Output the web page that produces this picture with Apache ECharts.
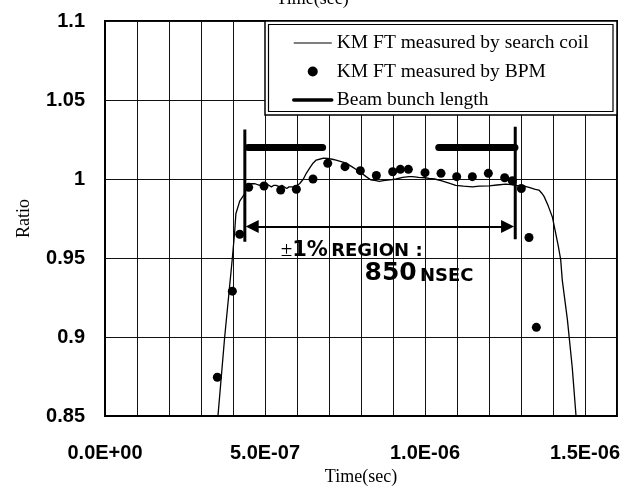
<!DOCTYPE html>
<html>
<head>
<meta charset="utf-8">
<script src="https://cdn.jsdelivr.net/npm/echarts@6/dist/echarts.min.js"></script>
<style>
  html, body { margin: 0; padding: 0; background: #fff; }
  #chart { width: 625px; height: 492px; }
</style>
</head>
<body>
<div id="chart"></div>
<script>
// Kicker flat-top waveform measured with the search coil (time in ns, ratio)
const coilTimeNs = [353, 374, 398, 405, 409, 421, 431, 437, 442, 449, 456, 462, 469, 475, 483, 490, 497, 504, 512,
  520, 528, 535, 546, 553, 560, 568, 575, 587, 600, 608, 614, 620, 629, 640, 650, 660, 670, 683, 696, 710, 722,
  738, 754, 770, 785, 800, 816, 830, 847, 857, 870, 890, 910, 930, 950, 961, 980, 1000, 1013, 1030, 1050, 1065,
  1080, 1096, 1120, 1148, 1170, 1200, 1225, 1253, 1270, 1283, 1310, 1325, 1345, 1356, 1365, 1372, 1385, 1398,
  1408, 1417, 1424, 1429, 1445, 1460, 1472];
const coilRatio = [0.850, 0.900, 0.950, 0.966, 0.978, 0.986, 0.989, 0.991, 0.995, 0.996, 0.997, 0.996, 0.997, 0.997, 0.996, 0.997,
  0.996, 0.997, 0.996, 0.995, 0.996, 0.996, 0.995, 0.996, 0.995, 0.994, 0.995, 0.995, 0.996, 0.997, 0.998, 1.000,
  1.0036, 1.007, 1.010, 1.012, 1.0125, 1.0132, 1.013, 1.0125, 1.012, 1.011, 1.010, 1.008, 1.006, 1.004, 1.0015,
  0.9995, 0.999, 0.9985, 0.999, 0.9995, 1.000, 1.001, 1.0015, 1.0015, 1.001, 1.0008, 1.0004, 1.000, 0.999, 0.998,
  0.997, 0.996, 0.9955, 0.995, 0.9955, 0.9956, 0.9962, 0.9968, 0.9965, 0.996, 0.9955, 0.9947, 0.9935, 0.993,
  0.991, 0.989, 0.983, 0.976, 0.966, 0.957, 0.949, 0.936, 0.911, 0.881, 0.850];

// Kicker flat-top measured with the BPM
const bpmTimeNs = [351, 398, 421, 449, 497, 549, 598, 650, 696, 750, 798, 848, 899, 923, 948, 1000, 1050, 1099,
  1148, 1198, 1249, 1273, 1301, 1325, 1348];
const bpmRatio = [0.8745, 0.929, 0.965, 0.9947, 0.9956, 0.993, 0.9935, 1.000, 1.0099, 1.0078, 1.0053, 1.0022,
  1.0046, 1.0061, 1.0061, 1.004, 1.0036, 1.0015, 1.0015, 1.0036, 1.0008, 0.9989, 0.994, 0.963, 0.9061];

// Beam bunch extents (ns), drawn at a fixed ratio level
const bunchLevel = 1.02;
const bunchHeadNs = [447, 680];
const bunchTailNs = [1043, 1281];

// Edges of the ±1% flat-top region
const regionEdgesNs = [437, 1282];
const regionEdgeLow = [0.9603, 0.9618];
const regionEdgeHigh = [1.0314, 1.033];
const regionArrowNs = [460, 1258];
const regionArrowLevel = 0.97;
const regionLabelAt = [549, 0.955];
const regionWidthAt = [811, 0.9405];

// Axis settings
const xMinNs = 0, xMaxNs = 1600, xStepNs = 100;
const xLabelTicksNs = [0, 500, 1000, 1500];
const yMin = 0.85, yMax = 1.1, yStep = 0.05;

const names = ['KM FT measured by search coil', 'KM FT measured by BPM', 'Beam bunch length'];

function sciSeconds(ns) {
  if (ns === 0) return '0.0E+00';
  const v = ns * 1e-9;
  let e = Math.floor(Math.log10(v));
  let m = v / Math.pow(10, e);
  if (m >= 9.95) { m /= 10; e += 1; }
  if (m < 1) { m *= 10; e -= 1; }
  return m.toFixed(1) + 'E' + (e < 0 ? '-' : '+') + String(Math.abs(e)).padStart(2, '0');
}

const zip = (xs, ys) => xs.map((x, i) => [x, ys[i]]);

const edgeData = [];
regionEdgesNs.forEach((t, i) => {
  if (i > 0) edgeData.push(['-', '-']);
  edgeData.push([t, regionEdgeLow[i]], [t, regionEdgeHigh[i]]);
});

const chart = echarts.init(document.getElementById('chart'), null, { renderer: 'canvas' });

const capFont = 'DejaVu Sans';
const hiddenSymbol = { opacity: 0 };

chart.setOption({
  animation: false,
  backgroundColor: '#fff',
  grid: {
    left: 105, right: 8, top: 21, bottom: 76,
    show: true, borderColor: '#000', borderWidth: 2, backgroundColor: 'transparent'
  },
  xAxis: {
    type: 'value', min: xMinNs, max: xMaxNs, interval: xStepNs,
    name: 'Time(sec)', nameLocation: 'middle', nameGap: 47,
    nameTextStyle: { fontFamily: 'Liberation Serif', fontSize: 18, color: '#000' },
    axisLine: { show: true, lineStyle: { color: '#000', width: 2 } },
    axisTick: { show: false },
    splitLine: { show: true, lineStyle: { color: '#111', width: 1 } },
    axisLabel: {
      margin: 27, color: '#000', fontFamily: 'Liberation Sans', fontWeight: 'bold', fontSize: 20,
      formatter: v => xLabelTicksNs.includes(Math.round(v)) ? sciSeconds(Math.round(v)) : ''
    }
  },
  yAxis: {
    type: 'value', min: yMin, max: yMax, interval: yStep,
    name: 'Ratio', nameLocation: 'middle', nameGap: 72, nameRotate: 90,
    nameTextStyle: { fontFamily: 'Liberation Serif', fontSize: 18, color: '#000' },
    axisLine: { show: true, lineStyle: { color: '#000', width: 2 } },
    axisTick: { show: false },
    splitLine: { show: true, lineStyle: { color: '#111', width: 1 } },
    axisLabel: {
      margin: 20, color: '#000', fontFamily: 'Liberation Sans', fontWeight: 'bold', fontSize: 20
    }
  },
  legend: {
    orient: 'vertical', left: 287, top: 28, z: 10,
    itemWidth: 38, itemHeight: 10, itemGap: 8.5, selectedMode: false,
    textStyle: { fontFamily: 'Liberation Serif', fontSize: 19.5, color: '#000' },
    data: [
      { name: names[0], itemStyle: hiddenSymbol, lineStyle: { width: 1.2 } },
      { name: names[1], icon: 'circle', itemStyle: { color: '#000', opacity: 1 } },
      { name: names[2], itemStyle: hiddenSymbol, lineStyle: { width: 3.5 } }
    ]
  },
  graphic: [
    { type: 'rect', z: 5, shape: { x: 265, y: 21, width: 352, height: 94 },
      style: { fill: '#fff', stroke: '#000', lineWidth: 1.5 } },
    { type: 'rect', z: 6, shape: { x: 268.5, y: 24.5, width: 344.5, height: 87 },
      style: { fill: 'none', stroke: '#000', lineWidth: 1.2 } },
    { type: 'text', z: 6, left: 'center', top: -10,
      style: { text: 'Time(sec)', x: 361, fontFamily: 'Liberation Serif', fontSize: 18, fill: '#000' } }
  ],
  series: [
    {
      name: names[0], type: 'line', data: zip(coilTimeNs, coilRatio),
      symbol: 'none', smooth: false, z: 3,
      lineStyle: { color: '#000', width: 1.3 }, itemStyle: { color: '#000' }
    },
    {
      name: names[1], type: 'scatter', data: zip(bpmTimeNs, bpmRatio),
      symbol: 'circle', symbolSize: 9, z: 4,
      itemStyle: { color: '#000', opacity: 1 }
    },
    {
      name: names[2], type: 'line', symbol: 'none', z: 4,
      data: bunchHeadNs.map(t => [t, bunchLevel]),
      lineStyle: { color: '#000', width: 7, cap: 'round' }, itemStyle: { color: '#000' }
    },
    {
      name: names[2], type: 'line', symbol: 'none', z: 4,
      data: bunchTailNs.map(t => [t, bunchLevel]),
      lineStyle: { color: '#000', width: 7, cap: 'round' }, itemStyle: { color: '#000' }
    },
    {
      name: 'region edges', type: 'line', symbol: 'none', z: 4, connectNulls: false,
      data: edgeData,
      lineStyle: { color: '#000', width: 3 }, itemStyle: { color: '#000' },
      markLine: {
        silent: true, symbol: ['triangle', 'triangle'], symbolSize: [13, 13],
        lineStyle: { color: '#000', width: 2, type: 'solid' },
        label: { show: false },
        data: [[{ coord: [regionArrowNs[0], regionArrowLevel] }, { coord: [regionArrowNs[1], regionArrowLevel] }]]
      },
      markPoint: {
        silent: true, symbol: 'circle', symbolSize: 0,
        data: [
          {
            coord: regionLabelAt,
            label: {
              show: true, position: 'right', distance: 0, color: '#000',
              formatter: '{pm|±}{pct|1%} {cap|REGION :}',
              rich: {
                pm: { fontFamily: 'Liberation Serif', fontSize: 21, color: '#000', verticalAlign: 'bottom' },
                pct: { fontFamily: capFont, fontWeight: 'bold', fontSize: 21, color: '#000', verticalAlign: 'bottom' },
                cap: { fontFamily: capFont, fontWeight: 'bold', fontSize: 18, color: '#000', verticalAlign: 'bottom' }
              }
            }
          },
          {
            coord: regionWidthAt,
            label: {
              show: true, position: 'right', distance: 0, color: '#000',
              formatter: '{num|850} {cap|NSEC}',
              rich: {
                num: { fontFamily: capFont, fontWeight: 'bold', fontSize: 25, color: '#000', verticalAlign: 'bottom' },
                cap: { fontFamily: capFont, fontWeight: 'bold', fontSize: 18, color: '#000', verticalAlign: 'bottom' }
              }
            }
          }
        ]
      }
    }
  ]
});
</script>
</body>
</html>
